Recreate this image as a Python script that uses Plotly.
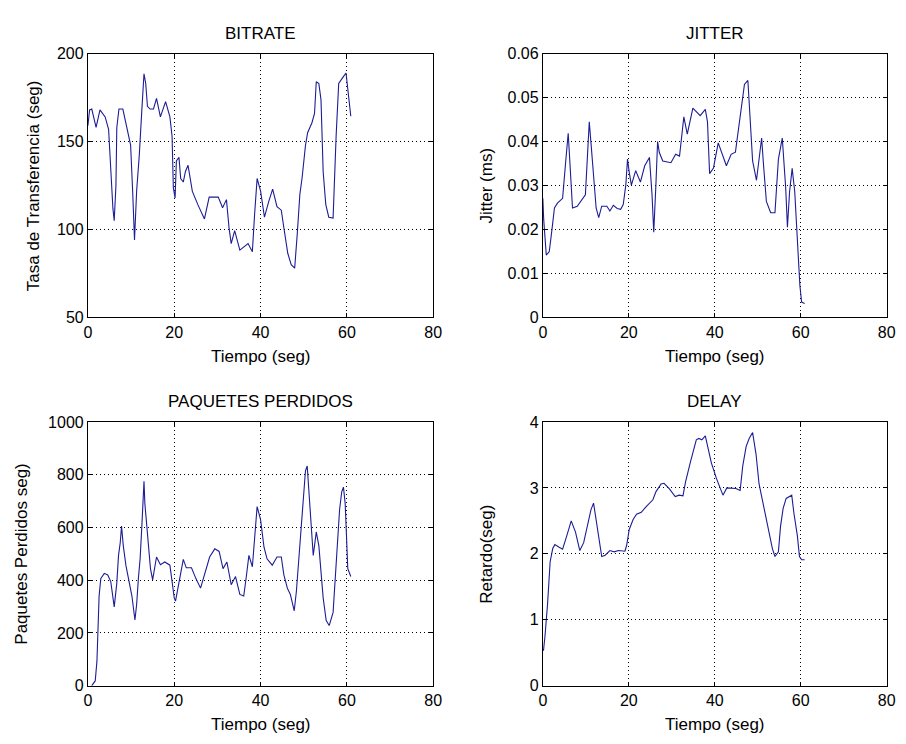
import plotly.graph_objects as go

# ---------------- data ----------------
bitrate_t = [0, 0.4, 0.9, 1.9, 2.8, 4, 4.8, 5.2, 5.8, 6.1, 6.5, 6.7, 7.2, 8.1, 9, 9.9, 10.4, 10.8,
             11.3, 11.9, 12.5, 13, 13.4, 13.8, 14.4, 15.2, 15.9, 16.8, 18, 19, 19.5, 19.8, 20.2,
             20.5, 21.1, 21.5, 22.1, 22.6, 23.2, 24.2, 25.5, 27, 28.1, 30.2, 31.2, 32.1, 32.7,
             33.2, 34, 35.2, 37.1, 38.1, 38.6, 39.2, 40, 40.9, 41.9, 42.8, 43.8, 44.8, 45.4,
             46.3, 47.1, 47.9, 48.5, 49.1, 49.6, 50.4, 50.9, 51.9, 52.5, 52.9, 53.5, 54, 54.5,
             55.1, 55.8, 56.8, 57.5, 58.1, 59.1, 59.8, 60.4, 60.9]
bitrate_v = [159, 168, 168.5, 158, 168, 164, 157, 136.5, 112, 105, 125, 158, 168.5, 168.5, 159,
             148, 120, 94, 122, 142, 168, 188.5, 183, 170, 168.5, 168.5, 174.6, 164, 172.7, 164,
             153, 123.6, 118, 139, 141, 129, 127, 133, 136.5, 121.7, 114, 106, 118.4, 118.4,
             112.4, 117, 101, 92, 99.4, 88.3, 92, 87.4, 108, 129, 122, 107, 116, 123, 113, 111,
             101, 86.5, 80, 78, 97.6, 120, 129, 147.7, 155, 160.7, 166, 184, 183, 173.7, 132.8,
             114.3, 107, 106.5, 153, 183, 186.6, 189, 175.5, 164.4]

jitter_t = [0, 0.2, 0.8, 1.5, 2.1, 2.7, 3.4, 4.6, 5.3, 5.9, 6.3, 6.9, 8, 9.4, 9.9, 10.5, 10.8,
            11.2, 11.8, 12.4, 13, 13.7, 14.9, 15.6, 16.4, 17.3, 18.1, 18.7, 19.3, 19.7, 20.1,
            20.6, 21.6, 22.7, 23.7, 24.8, 25.4, 25.8, 26.3, 26.7, 27.1, 27.9, 29.8, 30.9, 31.8,
            32.3, 32.8, 33.6, 34.9, 36.6, 37.8, 38.3, 38.8, 39.7, 40.8, 42.7, 43.8, 44.8, 45.7,
            46.9, 47.7, 48.2, 48.8, 49.7, 50.3, 50.9, 51.3, 52, 53, 54, 54.8, 55.7, 56.5, 56.9,
            57.4, 58, 58.6, 59, 59.5, 59.8, 60.2, 60.9]
jitter_v = [0.0271, 0.0223, 0.0142, 0.0150, 0.0198, 0.0249, 0.0260, 0.0271, 0.0352, 0.0419,
            0.0352, 0.0249, 0.0253, 0.0271, 0.0279, 0.0389, 0.0445, 0.0397, 0.0316, 0.0249,
            0.0227, 0.0253, 0.0253, 0.0242, 0.0255, 0.0248, 0.0246, 0.0257, 0.0301, 0.0360,
            0.0330, 0.0301, 0.0334, 0.0308, 0.0345, 0.0364, 0.0279, 0.0194, 0.0301, 0.0400,
            0.0375, 0.0356, 0.0352, 0.0371, 0.0367, 0.0408, 0.0456, 0.0417, 0.0476, 0.0459,
            0.0473, 0.0445, 0.0327, 0.0340, 0.0397, 0.0345, 0.0371, 0.0376, 0.0441, 0.0530,
            0.0539, 0.0463, 0.0356, 0.0312, 0.0364, 0.0408, 0.0352, 0.0264, 0.0238, 0.0238,
            0.0360, 0.0408, 0.0294, 0.0205, 0.0286, 0.0339, 0.0286, 0.0205, 0.0139, 0.0072,
            0.0035, 0.0032]

paq_t = [0.9, 1.7, 2.1, 2.3, 2.6, 3, 3.8, 4.6, 5.3, 6.1, 6.7, 7.1, 7.5, 7.8, 8.2, 8.8, 9.5,
         10.2, 10.9, 11.3, 11.7, 12.1, 12.5, 13, 13.2, 13.6, 14, 14.5, 15, 15.5, 15.9, 16.8,
         17.8, 19, 19.5, 20, 20.3, 20.9, 21.5, 22.1, 22.8, 24, 25, 26.1, 27.1, 28.2, 29.4,
         30.4, 31.3, 32.2, 33.2, 34.2, 35.2, 36.1, 36.7, 37.3, 38.1, 38.6, 39.2, 40, 40.8,
         41.5, 42.7, 43.8, 44.8, 45.4, 46.2, 46.9, 47.8, 48.3, 48.8, 49.4, 49.8, 50.4, 50.8,
         51.2, 51.7, 52.2, 52.5, 52.9, 53.5, 54, 54.5, 55.2, 55.9, 56.8, 57.3, 57.8, 58.3,
         58.8, 59.2, 59.6, 60, 60.2, 60.9]
paq_v = [0, 18, 93, 210, 340, 407, 426, 420, 395, 299, 389, 494, 543, 605, 531, 457, 401, 340,
         249, 309, 407, 481, 605, 775, 691, 623, 531, 444, 401, 457, 488, 459, 469, 457, 395,
         333, 321, 377, 432, 479, 447, 447, 407, 370, 426, 488, 519, 509, 444, 469, 383, 414,
         346, 340, 414, 494, 451, 562, 679, 630, 525, 481, 457, 488, 488, 420, 370, 346, 284,
         358, 469, 630, 716, 815, 833, 728, 617, 494, 531, 583, 531, 432, 333, 247, 228, 278,
         407, 531, 667, 735, 753, 691, 531, 444, 414]

delay_t = [0.15, 0.5, 1.1, 1.7, 2.3, 2.8, 3.8, 4.6, 5.6, 6.6, 7.6, 8.6, 9.5, 10.5, 11.2, 11.8,
           12.6, 13.7, 14.5, 15.6, 16.6, 17.6, 19.1, 19.5, 20.1, 21, 21.8, 22.9, 24.1, 25.6,
           26.3, 27.5, 28.2, 29.4, 30.8, 31.7, 32.6, 33.2, 34.4, 35.7, 36.3, 37, 37.8, 38.5,
           39.2, 40.4, 41.3, 41.9, 42.8, 43.8, 44.9, 45.9, 46.5, 47.3, 48, 48.8, 49.6, 50.3,
           51.5, 52.6, 53.4, 54, 54.8, 55.3, 55.9, 56.6, 57.9, 58.4, 59.2, 59.7, 60.2, 60.9]
delay_v = [0.53, 0.75, 1.24, 1.88, 2.08, 2.14, 2.10, 2.07, 2.28, 2.50, 2.33, 2.05, 2.17, 2.47,
           2.67, 2.77, 2.42, 1.96, 1.98, 2.05, 2.03, 2.05, 2.04, 2.13, 2.37, 2.52, 2.60, 2.63,
           2.72, 2.82, 2.94, 3.06, 3.07, 2.99, 2.87, 2.89, 2.88, 3.09, 3.41, 3.73, 3.75, 3.73,
           3.79, 3.60, 3.38, 3.14, 2.99, 2.89, 3.00, 2.99, 2.99, 2.96, 3.33, 3.63, 3.75, 3.84,
           3.51, 3.06, 2.67, 2.30, 2.08, 1.96, 2.03, 2.42, 2.69, 2.84, 2.89, 2.62, 2.28, 1.96,
           1.91, 1.91]

titles = ["BITRATE", "JITTER", "PAQUETES PERDIDOS", "DELAY"]
x_label = "Tiempo (seg)"
y_labels = ["Tasa de Transferencia (seg)", "Jitter (ms)", "Paquetes Perdidos seg)", "Retardo(seg)"]
x_ticks = [0, 20, 40, 60, 80]
y_ticks = [[50, 100, 150, 200],
           [0, 0.01, 0.02, 0.03, 0.04, 0.05, 0.06],
           [0, 200, 400, 600, 800, 1000],
           [0, 1, 2, 3, 4]]
y_ranges = [[50, 200], [0, 0.06], [0, 1000], [0, 4]]

series = [(bitrate_t, bitrate_v), (jitter_t, jitter_v), (paq_t, paq_v), (delay_t, delay_v)]

# ---------------- layout ----------------
# the page body has an 8px margin: size the figure so it fits without overflow
OFF = 8
W, H = 906 - 2 * OFF, 744 - 2 * OFF
FONT = "Liberation Sans, Arial, sans-serif"
LINE = "#1c1c96"
TXT = 17
TICK = 16

# target screen pixel boxes [x0, x1, ytop, ybottom]
boxes = [(85, 435.5, 46.5, 316.7),
         (546.7, 895.7, 46.5, 316.7),
         (85, 435.5, 423.7, 693.7),
         (546.7, 895.7, 423.7, 693.7)]
ytitle_x = [30, 490, 18, 490]


def px(v):
    return (v - OFF) / W


def py(v):
    return 1 - (v - OFF) / H


fig = go.Figure()
annotations = []
for i, ((t, v), (x0, x1, yt, yb)) in enumerate(zip(series, boxes)):
    n = "" if i == 0 else str(i + 1)
    fig.add_trace(go.Scatter(x=t, y=v, mode="lines", xaxis="x" + n, yaxis="y" + n,
                             line=dict(color=LINE, width=1.1), showlegend=False,
                             hoverinfo="skip"))
    common = dict(showline=True, linecolor="black", linewidth=1, mirror="ticks",
                  ticks="inside", ticklen=4, tickcolor="black", showgrid=True,
                  gridcolor="black", griddash="1px,3px", gridwidth=1, zeroline=False,
                  tickfont=dict(family=FONT, size=TICK, color="black"))
    fig.update_layout(**{
        "xaxis" + n: dict(domain=[px(x0), px(x1)], range=[0, 80], tickvals=x_ticks,
                          anchor="y" + n, **common),
        "yaxis" + n: dict(domain=[py(yb), py(yt)], range=y_ranges[i],
                          tickvals=y_ticks[i], anchor="x" + n, **common),
    })
    cx = (x0 + x1) / 2
    annotations.append(dict(text=titles[i], x=px(cx), y=py(yt - 21), xref="paper",
                            yref="paper", showarrow=False, xanchor="center", yanchor="middle",
                            font=dict(family=FONT, size=TXT, color="black")))
    annotations.append(dict(text=x_label, x=px(cx), y=py(yb + 40), xref="paper",
                            yref="paper", showarrow=False, xanchor="center", yanchor="middle",
                            font=dict(family=FONT, size=TXT, color="black")))
    annotations.append(dict(text=y_labels[i], x=px(ytitle_x[i]), y=py((yt + yb) / 2),
                            xref="paper", yref="paper", showarrow=False, textangle=-90,
                            xanchor="center", yanchor="middle",
                            font=dict(family=FONT, size=TXT, color="black")))

fig.update_layout(width=W, height=H, margin=dict(l=0, r=0, t=0, b=0),
                  paper_bgcolor="white", plot_bgcolor="white", annotations=annotations)

fig.write_html("out.html")
